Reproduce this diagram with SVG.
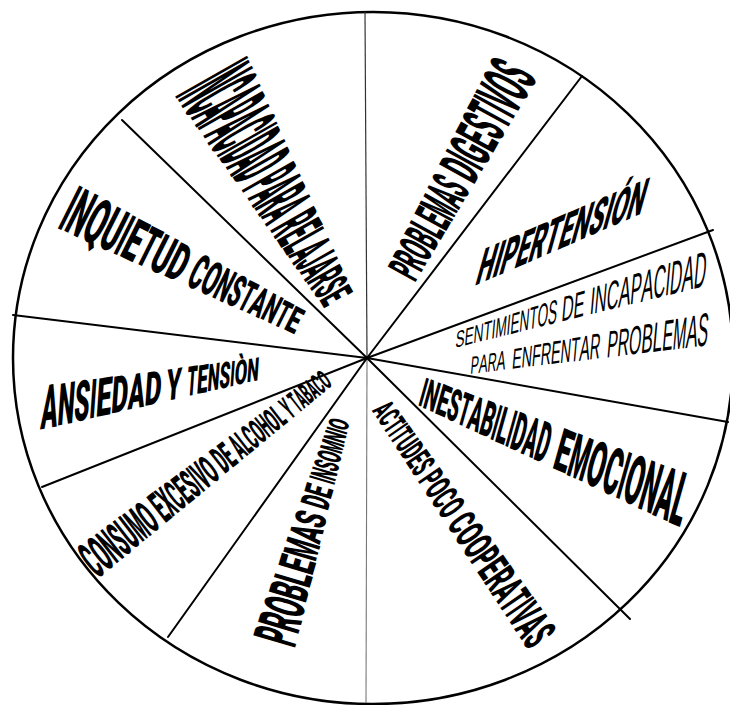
<svg xmlns="http://www.w3.org/2000/svg" width="730" height="705" viewBox="0 0 730 705">
<style>
.lbl{font-family:Roboto,"Liberation Sans",Arial,sans-serif;font-weight:900;fill:#000}
.thin{font-family:"Liberation Sans",Arial,sans-serif;font-weight:normal;fill:#000}
.ray{stroke:#000;stroke-width:2;fill:none;stroke-linecap:round}
</style>
<rect width="730" height="705" fill="#fff"/>
<g id="wheel"><ellipse cx="373" cy="358" rx="360" ry="346" fill="none" stroke="#000" stroke-width="2.5"/></g>
<g id="connectors">
<line x1="365" y1="12" x2="367" y2="358" stroke="#333" stroke-width="1.2"/>
<line x1="367" y1="358" x2="366" y2="703" stroke="#777" stroke-width="1.1"/>
<line class="ray" x1="367" y1="358" x2="582" y2="76"/>
<line class="ray" x1="367" y1="358" x2="713" y2="230"/>
<line class="ray" x1="367" y1="358" x2="728" y2="422"/>
<line class="ray" x1="367" y1="358" x2="630" y2="619"/>
<line class="ray" x1="367" y1="358" x2="168" y2="637"/>
<line class="ray" x1="367" y1="358" x2="42" y2="487"/>
<line class="ray" x1="367" y1="358" x2="13" y2="315"/>
<line class="ray" x1="367" y1="358" x2="122" y2="120"/>
</g>
<g id="incapacidad-relajarse"><text class="lbl" transform="translate(211 75) rotate(60.4)"><tspan x="0" y="41.8" font-size="116.1" textLength="4.38" lengthAdjust="spacingAndGlyphs">I</tspan><tspan x="4.38" y="41" font-size="113.9" textLength="11.37" lengthAdjust="spacingAndGlyphs">N</tspan><tspan x="15.75" y="39.9" font-size="110.8" textLength="11.37" lengthAdjust="spacingAndGlyphs">C</tspan><tspan x="27.12" y="38.8" font-size="107.6" textLength="11.37" lengthAdjust="spacingAndGlyphs">A</tspan><tspan x="38.49" y="37.7" font-size="104.7" textLength="10.51" lengthAdjust="spacingAndGlyphs">P</tspan><tspan x="49" y="36.6" font-size="101.7" textLength="11.37" lengthAdjust="spacingAndGlyphs">A</tspan><tspan x="60.37" y="35.5" font-size="98.6" textLength="11.37" lengthAdjust="spacingAndGlyphs">C</tspan><tspan x="71.74" y="34.7" font-size="96.4" textLength="4.38" lengthAdjust="spacingAndGlyphs">I</tspan><tspan x="76.12" y="34" font-size="94.3" textLength="11.37" lengthAdjust="spacingAndGlyphs">D</tspan><tspan x="87.49" y="32.8" font-size="91.1" textLength="11.37" lengthAdjust="spacingAndGlyphs">A</tspan><tspan x="98.86" y="31.7" font-size="88.1" textLength="11.37" lengthAdjust="spacingAndGlyphs">D</tspan> <tspan x="114.61" y="30.2" font-size="83.9" textLength="10.51" lengthAdjust="spacingAndGlyphs">P</tspan><tspan x="125.12" y="29.1" font-size="80.8" textLength="11.37" lengthAdjust="spacingAndGlyphs">A</tspan><tspan x="136.49" y="28" font-size="77.8" textLength="11.37" lengthAdjust="spacingAndGlyphs">R</tspan><tspan x="147.86" y="26.9" font-size="74.7" textLength="11.37" lengthAdjust="spacingAndGlyphs">A</tspan> <tspan x="163.61" y="25.4" font-size="70.4" textLength="11.37" lengthAdjust="spacingAndGlyphs">R</tspan><tspan x="174.98" y="24.3" font-size="67.4" textLength="10.51" lengthAdjust="spacingAndGlyphs">E</tspan><tspan x="185.49" y="23.3" font-size="64.6" textLength="9.62" lengthAdjust="spacingAndGlyphs">L</tspan><tspan x="195.11" y="22.3" font-size="61.8" textLength="11.37" lengthAdjust="spacingAndGlyphs">A</tspan><tspan x="206.48" y="21.3" font-size="59" textLength="8.76" lengthAdjust="spacingAndGlyphs">J</tspan><tspan x="215.24" y="20.3" font-size="56.3" textLength="11.37" lengthAdjust="spacingAndGlyphs">A</tspan><tspan x="226.61" y="19.2" font-size="53.2" textLength="11.37" lengthAdjust="spacingAndGlyphs">R</tspan><tspan x="237.98" y="18.1" font-size="50.1" textLength="10.51" lengthAdjust="spacingAndGlyphs">S</tspan><tspan x="248.49" y="17" font-size="47.2" textLength="10.51" lengthAdjust="spacingAndGlyphs">E</tspan></text></g>
<g id="inquietud-constante"><text class="lbl" transform="translate(67.5 206) rotate(26.57)"><tspan x="0" y="24.4" font-size="67.6" textLength="6.77" lengthAdjust="spacingAndGlyphs">I</tspan><tspan x="6.77" y="23.8" font-size="66.1" textLength="17.59" lengthAdjust="spacingAndGlyphs">N</tspan><tspan x="24.36" y="23" font-size="63.9" textLength="18.95" lengthAdjust="spacingAndGlyphs">Q</tspan><tspan x="43.31" y="22.2" font-size="61.7" textLength="17.59" lengthAdjust="spacingAndGlyphs">U</tspan><tspan x="60.9" y="21.7" font-size="60.1" textLength="6.77" lengthAdjust="spacingAndGlyphs">I</tspan><tspan x="67.67" y="21.2" font-size="58.8" textLength="16.25" lengthAdjust="spacingAndGlyphs">E</tspan><tspan x="83.92" y="20.5" font-size="56.8" textLength="14.88" lengthAdjust="spacingAndGlyphs">T</tspan><tspan x="98.8" y="19.8" font-size="54.9" textLength="17.59" lengthAdjust="spacingAndGlyphs">U</tspan><tspan x="116.39" y="19" font-size="52.6" textLength="17.59" lengthAdjust="spacingAndGlyphs">D</tspan> <tspan x="140" y="18" font-size="50" textLength="13.98" lengthAdjust="spacingAndGlyphs">C</tspan><tspan x="153.98" y="17.4" font-size="48.2" textLength="15.07" lengthAdjust="spacingAndGlyphs">O</tspan><tspan x="169.05" y="16.8" font-size="46.5" textLength="13.98" lengthAdjust="spacingAndGlyphs">N</tspan><tspan x="183.03" y="16.2" font-size="44.9" textLength="12.92" lengthAdjust="spacingAndGlyphs">S</tspan><tspan x="195.95" y="15.6" font-size="43.3" textLength="11.83" lengthAdjust="spacingAndGlyphs">T</tspan><tspan x="207.78" y="15" font-size="41.7" textLength="13.98" lengthAdjust="spacingAndGlyphs">A</tspan><tspan x="221.76" y="14.4" font-size="40" textLength="13.98" lengthAdjust="spacingAndGlyphs">N</tspan><tspan x="235.74" y="13.9" font-size="38.5" textLength="11.83" lengthAdjust="spacingAndGlyphs">T</tspan><tspan x="247.57" y="13.3" font-size="36.9" textLength="12.92" lengthAdjust="spacingAndGlyphs">E</tspan></text></g>
<g id="ansiedad-tension"><text class="lbl" transform="matrix(0.9843,-0.1758,-0.07,0.9975,41.6,407.5)"><tspan x="0" y="22.1" font-size="61.4" textLength="16.87" lengthAdjust="spacingAndGlyphs">A</tspan><tspan x="16.87" y="21.3" font-size="59" textLength="16.87" lengthAdjust="spacingAndGlyphs">N</tspan><tspan x="33.74" y="20.5" font-size="56.8" textLength="15.58" lengthAdjust="spacingAndGlyphs">S</tspan><tspan x="49.32" y="19.9" font-size="55.3" textLength="6.49" lengthAdjust="spacingAndGlyphs">I</tspan><tspan x="55.81" y="19.4" font-size="53.8" textLength="15.58" lengthAdjust="spacingAndGlyphs">E</tspan><tspan x="71.39" y="18.6" font-size="51.5" textLength="16.87" lengthAdjust="spacingAndGlyphs">D</tspan><tspan x="88.26" y="17.7" font-size="49.2" textLength="16.87" lengthAdjust="spacingAndGlyphs">A</tspan><tspan x="105.13" y="16.9" font-size="46.8" textLength="16.87" lengthAdjust="spacingAndGlyphs">D</tspan> <tspan x="127" y="15.8" font-size="43.9" textLength="15" lengthAdjust="spacingAndGlyphs">Y</tspan> <tspan x="148" y="14.9" font-size="41.4" textLength="10.03" lengthAdjust="spacingAndGlyphs">T</tspan><tspan x="158.03" y="14.4" font-size="39.9" textLength="10.95" lengthAdjust="spacingAndGlyphs">E</tspan><tspan x="168.98" y="13.8" font-size="38.3" textLength="11.86" lengthAdjust="spacingAndGlyphs">N</tspan><tspan x="180.84" y="13.3" font-size="36.8" textLength="10.95" lengthAdjust="spacingAndGlyphs">S</tspan><tspan x="191.79" y="12.9" font-size="35.7" textLength="4.56" lengthAdjust="spacingAndGlyphs">I</tspan><tspan x="196.35" y="12.4" font-size="34.4" textLength="12.77" lengthAdjust="spacingAndGlyphs">Ò</tspan><tspan x="209.12" y="11.8" font-size="32.8" textLength="11.86" lengthAdjust="spacingAndGlyphs">N</tspan></text></g>
<g id="consumo-alcohol-tabaco"><text class="lbl" transform="translate(86 564) rotate(-37.8)"><tspan x="0" y="18.85" font-size="52.4" textLength="11.5" lengthAdjust="spacingAndGlyphs">C</tspan><tspan x="11.5" y="18.5" font-size="51.4" textLength="12.39" lengthAdjust="spacingAndGlyphs">O</tspan><tspan x="23.89" y="18.15" font-size="50.4" textLength="11.5" lengthAdjust="spacingAndGlyphs">N</tspan><tspan x="35.39" y="17.8" font-size="49.4" textLength="10.63" lengthAdjust="spacingAndGlyphs">S</tspan><tspan x="46.02" y="17.45" font-size="48.5" textLength="11.5" lengthAdjust="spacingAndGlyphs">U</tspan><tspan x="57.52" y="17.1" font-size="47.5" textLength="13.27" lengthAdjust="spacingAndGlyphs">M</tspan><tspan x="70.79" y="16.75" font-size="46.5" textLength="12.39" lengthAdjust="spacingAndGlyphs">O</tspan> <tspan x="87.6" y="16.3" font-size="45.3" textLength="9.55" lengthAdjust="spacingAndGlyphs">E</tspan><tspan x="97.15" y="16" font-size="44.4" textLength="9.55" lengthAdjust="spacingAndGlyphs">X</tspan><tspan x="106.7" y="15.7" font-size="43.6" textLength="10.34" lengthAdjust="spacingAndGlyphs">C</tspan><tspan x="117.04" y="15.4" font-size="42.8" textLength="9.55" lengthAdjust="spacingAndGlyphs">E</tspan><tspan x="126.59" y="15.15" font-size="42.1" textLength="9.55" lengthAdjust="spacingAndGlyphs">S</tspan><tspan x="136.14" y="14.95" font-size="41.5" textLength="3.98" lengthAdjust="spacingAndGlyphs">I</tspan><tspan x="140.12" y="14.75" font-size="41" textLength="9.55" lengthAdjust="spacingAndGlyphs">V</tspan><tspan x="149.67" y="14.4" font-size="40" textLength="11.14" lengthAdjust="spacingAndGlyphs">O</tspan> <tspan x="164.8" y="14" font-size="38.9" textLength="9.57" lengthAdjust="spacingAndGlyphs">D</tspan><tspan x="174.37" y="13.75" font-size="38.2" textLength="8.84" lengthAdjust="spacingAndGlyphs">E</tspan> <tspan x="186.8" y="13.35" font-size="37.1" textLength="8.81" lengthAdjust="spacingAndGlyphs">A</tspan><tspan x="195.61" y="13.15" font-size="36.5" textLength="7.45" lengthAdjust="spacingAndGlyphs">L</tspan><tspan x="203.06" y="12.9" font-size="35.8" textLength="8.81" lengthAdjust="spacingAndGlyphs">C</tspan><tspan x="211.87" y="12.6" font-size="35" textLength="9.49" lengthAdjust="spacingAndGlyphs">O</tspan><tspan x="221.36" y="12.35" font-size="34.3" textLength="8.81" lengthAdjust="spacingAndGlyphs">H</tspan><tspan x="230.17" y="12.1" font-size="33.6" textLength="9.49" lengthAdjust="spacingAndGlyphs">O</tspan><tspan x="239.66" y="11.85" font-size="32.9" textLength="7.45" lengthAdjust="spacingAndGlyphs">L</tspan> <tspan x="250.4" y="11.5" font-size="31.9" textLength="7.5" lengthAdjust="spacingAndGlyphs">Y</tspan> <tspan x="261" y="11.2" font-size="31.1" textLength="6.33" lengthAdjust="spacingAndGlyphs">T</tspan><tspan x="267.33" y="11" font-size="30.6" textLength="7.48" lengthAdjust="spacingAndGlyphs">A</tspan><tspan x="274.81" y="10.8" font-size="30" textLength="7.48" lengthAdjust="spacingAndGlyphs">B</tspan><tspan x="282.29" y="10.55" font-size="29.3" textLength="7.48" lengthAdjust="spacingAndGlyphs">A</tspan><tspan x="289.77" y="10.35" font-size="28.8" textLength="7.48" lengthAdjust="spacingAndGlyphs">C</tspan><tspan x="297.25" y="10.1" font-size="28.1" textLength="8.06" lengthAdjust="spacingAndGlyphs">O</tspan></text></g>
<g id="problemas-insomnio"><text class="lbl" transform="translate(273.5 642.5) rotate(-73.4)"><tspan x="0" y="22.1" font-size="61.4" textLength="14.21" lengthAdjust="spacingAndGlyphs">P</tspan><tspan x="14.21" y="21.3" font-size="59.2" textLength="15.38" lengthAdjust="spacingAndGlyphs">R</tspan><tspan x="29.59" y="20.45" font-size="56.8" textLength="16.57" lengthAdjust="spacingAndGlyphs">O</tspan><tspan x="46.16" y="19.6" font-size="54.4" textLength="15.38" lengthAdjust="spacingAndGlyphs">B</tspan><tspan x="61.54" y="18.85" font-size="52.4" textLength="13.01" lengthAdjust="spacingAndGlyphs">L</tspan><tspan x="74.55" y="18.1" font-size="50.3" textLength="14.21" lengthAdjust="spacingAndGlyphs">E</tspan><tspan x="88.76" y="17.25" font-size="47.9" textLength="17.74" lengthAdjust="spacingAndGlyphs">M</tspan><tspan x="106.5" y="16.35" font-size="45.4" textLength="15.38" lengthAdjust="spacingAndGlyphs">A</tspan><tspan x="121.88" y="15.6" font-size="43.3" textLength="14.21" lengthAdjust="spacingAndGlyphs">S</tspan> <tspan x="141.2" y="14.6" font-size="40.6" textLength="11.7" lengthAdjust="spacingAndGlyphs">D</tspan><tspan x="152.9" y="14" font-size="38.9" textLength="10.8" lengthAdjust="spacingAndGlyphs">E</tspan> <tspan x="167.8" y="13.4" font-size="37.2" textLength="3.58" lengthAdjust="spacingAndGlyphs">I</tspan><tspan x="171.38" y="13.05" font-size="36.3" textLength="9.31" lengthAdjust="spacingAndGlyphs">N</tspan><tspan x="180.69" y="12.6" font-size="35" textLength="8.6" lengthAdjust="spacingAndGlyphs">S</tspan><tspan x="189.29" y="12.1" font-size="33.6" textLength="10.03" lengthAdjust="spacingAndGlyphs">O</tspan><tspan x="199.32" y="11.5" font-size="31.9" textLength="10.74" lengthAdjust="spacingAndGlyphs">M</tspan><tspan x="210.06" y="11" font-size="30.6" textLength="9.31" lengthAdjust="spacingAndGlyphs">N</tspan><tspan x="219.37" y="10.65" font-size="29.6" textLength="3.58" lengthAdjust="spacingAndGlyphs">I</tspan><tspan x="222.95" y="10.25" font-size="28.5" textLength="10.03" lengthAdjust="spacingAndGlyphs">O</tspan></text></g>
<g id="actitudes-poco-cooperativas"><text class="lbl" transform="translate(381 404.5) rotate(55.5)"><tspan x="0" y="11.1" font-size="30.8" textLength="10.06" lengthAdjust="spacingAndGlyphs">A</tspan><tspan x="10.06" y="11.35" font-size="31.5" textLength="10.06" lengthAdjust="spacingAndGlyphs">C</tspan><tspan x="20.12" y="11.6" font-size="32.2" textLength="8.51" lengthAdjust="spacingAndGlyphs">T</tspan><tspan x="28.63" y="11.75" font-size="32.6" textLength="3.87" lengthAdjust="spacingAndGlyphs">I</tspan><tspan x="32.5" y="11.9" font-size="33.1" textLength="8.51" lengthAdjust="spacingAndGlyphs">T</tspan><tspan x="41.01" y="12.1" font-size="33.6" textLength="10.06" lengthAdjust="spacingAndGlyphs">U</tspan><tspan x="51.07" y="12.35" font-size="34.3" textLength="10.06" lengthAdjust="spacingAndGlyphs">D</tspan><tspan x="61.13" y="12.6" font-size="35" textLength="9.29" lengthAdjust="spacingAndGlyphs">E</tspan><tspan x="70.42" y="12.85" font-size="35.7" textLength="9.29" lengthAdjust="spacingAndGlyphs">S</tspan> <tspan x="83.8" y="13.2" font-size="36.7" textLength="10.76" lengthAdjust="spacingAndGlyphs">P</tspan><tspan x="94.56" y="13.45" font-size="37.4" textLength="12.55" lengthAdjust="spacingAndGlyphs">O</tspan><tspan x="107.11" y="13.75" font-size="38.2" textLength="11.65" lengthAdjust="spacingAndGlyphs">C</tspan><tspan x="118.76" y="14.05" font-size="39" textLength="12.55" lengthAdjust="spacingAndGlyphs">O</tspan> <tspan x="136.1" y="14.5" font-size="40.3" textLength="13.57" lengthAdjust="spacingAndGlyphs">C</tspan><tspan x="149.67" y="14.85" font-size="41.3" textLength="14.63" lengthAdjust="spacingAndGlyphs">O</tspan><tspan x="164.3" y="15.2" font-size="42.2" textLength="14.63" lengthAdjust="spacingAndGlyphs">O</tspan><tspan x="178.93" y="15.55" font-size="43.2" textLength="12.54" lengthAdjust="spacingAndGlyphs">P</tspan><tspan x="191.47" y="15.85" font-size="44" textLength="12.54" lengthAdjust="spacingAndGlyphs">E</tspan><tspan x="204.01" y="16.15" font-size="44.9" textLength="13.57" lengthAdjust="spacingAndGlyphs">R</tspan><tspan x="217.58" y="16.5" font-size="45.8" textLength="13.57" lengthAdjust="spacingAndGlyphs">A</tspan><tspan x="231.15" y="16.8" font-size="46.7" textLength="11.49" lengthAdjust="spacingAndGlyphs">T</tspan><tspan x="242.64" y="17" font-size="47.2" textLength="5.23" lengthAdjust="spacingAndGlyphs">I</tspan><tspan x="247.87" y="17.2" font-size="47.8" textLength="12.54" lengthAdjust="spacingAndGlyphs">V</tspan><tspan x="260.41" y="17.55" font-size="48.8" textLength="13.57" lengthAdjust="spacingAndGlyphs">A</tspan><tspan x="273.98" y="17.85" font-size="49.6" textLength="12.54" lengthAdjust="spacingAndGlyphs">S</tspan></text></g>
<g id="inestabilidad-emocional"><text class="lbl" transform="matrix(0.9235,0.3836,-0.27,0.963,421.5,391)"><tspan x="0" y="14.6" font-size="40.6" textLength="5" lengthAdjust="spacingAndGlyphs">I</tspan><tspan x="5" y="15" font-size="41.7" textLength="13" lengthAdjust="spacingAndGlyphs">N</tspan><tspan x="18" y="15.55" font-size="43.2" textLength="12" lengthAdjust="spacingAndGlyphs">E</tspan><tspan x="30" y="16.05" font-size="44.6" textLength="12" lengthAdjust="spacingAndGlyphs">S</tspan><tspan x="42" y="16.55" font-size="46" textLength="11" lengthAdjust="spacingAndGlyphs">T</tspan><tspan x="53" y="17.1" font-size="47.5" textLength="13" lengthAdjust="spacingAndGlyphs">A</tspan><tspan x="66" y="17.65" font-size="49" textLength="13" lengthAdjust="spacingAndGlyphs">B</tspan><tspan x="79" y="18.05" font-size="50.1" textLength="5" lengthAdjust="spacingAndGlyphs">I</tspan><tspan x="84" y="18.4" font-size="51.1" textLength="11" lengthAdjust="spacingAndGlyphs">L</tspan><tspan x="95" y="18.75" font-size="52.1" textLength="5" lengthAdjust="spacingAndGlyphs">I</tspan><tspan x="100" y="19.1" font-size="53.1" textLength="13" lengthAdjust="spacingAndGlyphs">D</tspan><tspan x="113" y="19.7" font-size="54.7" textLength="13" lengthAdjust="spacingAndGlyphs">A</tspan><tspan x="126" y="20.25" font-size="56.3" textLength="13" lengthAdjust="spacingAndGlyphs">D</tspan> <tspan x="147" y="21.2" font-size="58.9" textLength="15.39" lengthAdjust="spacingAndGlyphs">E</tspan><tspan x="162.39" y="21.95" font-size="61" textLength="19.22" lengthAdjust="spacingAndGlyphs">M</tspan><tspan x="181.61" y="22.75" font-size="63.2" textLength="17.95" lengthAdjust="spacingAndGlyphs">O</tspan><tspan x="199.56" y="23.5" font-size="65.3" textLength="16.66" lengthAdjust="spacingAndGlyphs">C</tspan><tspan x="216.22" y="24" font-size="66.7" textLength="6.41" lengthAdjust="spacingAndGlyphs">I</tspan><tspan x="222.63" y="24.55" font-size="68.2" textLength="17.95" lengthAdjust="spacingAndGlyphs">O</tspan><tspan x="240.58" y="25.3" font-size="70.3" textLength="16.66" lengthAdjust="spacingAndGlyphs">N</tspan><tspan x="257.24" y="26.05" font-size="72.4" textLength="16.66" lengthAdjust="spacingAndGlyphs">A</tspan><tspan x="273.9" y="26.7" font-size="74.2" textLength="14.1" lengthAdjust="spacingAndGlyphs">L</tspan></text></g>
<g id="sentimientos-incapacidad"><text class="thin" transform="matrix(0.9613,-0.2761,-0.087,0.996,455.7,339.5) scale(0.98)"><tspan x="0" y="8.7" font-size="24.2" textLength="9.6" lengthAdjust="spacingAndGlyphs">S</tspan><tspan x="9.6" y="9.05" font-size="25.1" textLength="9.6" lengthAdjust="spacingAndGlyphs">E</tspan><tspan x="19.2" y="9.45" font-size="26.3" textLength="10.4" lengthAdjust="spacingAndGlyphs">N</tspan><tspan x="29.6" y="9.85" font-size="27.4" textLength="8.8" lengthAdjust="spacingAndGlyphs">T</tspan><tspan x="38.4" y="10.1" font-size="28.1" textLength="4" lengthAdjust="spacingAndGlyphs">I</tspan><tspan x="42.4" y="10.4" font-size="28.9" textLength="12" lengthAdjust="spacingAndGlyphs">M</tspan><tspan x="54.4" y="10.7" font-size="29.7" textLength="4" lengthAdjust="spacingAndGlyphs">I</tspan><tspan x="58.4" y="11" font-size="30.6" textLength="9.6" lengthAdjust="spacingAndGlyphs">E</tspan><tspan x="68" y="11.4" font-size="31.7" textLength="10.4" lengthAdjust="spacingAndGlyphs">N</tspan><tspan x="78.4" y="11.75" font-size="32.6" textLength="8.8" lengthAdjust="spacingAndGlyphs">T</tspan><tspan x="87.2" y="12.15" font-size="33.8" textLength="11.2" lengthAdjust="spacingAndGlyphs">O</tspan><tspan x="98.4" y="12.55" font-size="34.9" textLength="9.6" lengthAdjust="spacingAndGlyphs">S</tspan> <tspan x="113" y="13.2" font-size="36.7" textLength="12.48" lengthAdjust="spacingAndGlyphs">D</tspan><tspan x="125.48" y="13.7" font-size="38.1" textLength="11.52" lengthAdjust="spacingAndGlyphs">E</tspan> <tspan x="143" y="14.25" font-size="39.6" textLength="4.89" lengthAdjust="spacingAndGlyphs">I</tspan><tspan x="147.89" y="14.6" font-size="40.6" textLength="12.71" lengthAdjust="spacingAndGlyphs">N</tspan><tspan x="160.6" y="15.1" font-size="41.9" textLength="12.71" lengthAdjust="spacingAndGlyphs">C</tspan><tspan x="173.31" y="15.6" font-size="43.3" textLength="12.71" lengthAdjust="spacingAndGlyphs">A</tspan><tspan x="186.02" y="16.05" font-size="44.6" textLength="11.74" lengthAdjust="spacingAndGlyphs">P</tspan><tspan x="197.76" y="16.55" font-size="46" textLength="12.71" lengthAdjust="spacingAndGlyphs">A</tspan><tspan x="210.47" y="17.05" font-size="47.4" textLength="12.71" lengthAdjust="spacingAndGlyphs">C</tspan><tspan x="223.18" y="17.4" font-size="48.3" textLength="4.89" lengthAdjust="spacingAndGlyphs">I</tspan><tspan x="228.07" y="17.75" font-size="49.3" textLength="12.71" lengthAdjust="spacingAndGlyphs">D</tspan><tspan x="240.78" y="18.25" font-size="50.7" textLength="12.71" lengthAdjust="spacingAndGlyphs">A</tspan><tspan x="253.49" y="18.75" font-size="52.1" textLength="12.71" lengthAdjust="spacingAndGlyphs">D</tspan></text><text class="thin" transform="matrix(0.9882,-0.1523,-0.087,0.996,470.8,365) scale(0.98)"><tspan x="0" y="9.15" font-size="25.4" textLength="8.48" lengthAdjust="spacingAndGlyphs">P</tspan><tspan x="8.48" y="9.45" font-size="26.3" textLength="9.18" lengthAdjust="spacingAndGlyphs">A</tspan><tspan x="17.66" y="9.75" font-size="27.1" textLength="9.18" lengthAdjust="spacingAndGlyphs">R</tspan><tspan x="26.84" y="10.1" font-size="28.1" textLength="9.18" lengthAdjust="spacingAndGlyphs">A</tspan> <tspan x="43" y="10.65" font-size="29.6" textLength="9.84" lengthAdjust="spacingAndGlyphs">E</tspan><tspan x="52.84" y="11" font-size="30.6" textLength="10.66" lengthAdjust="spacingAndGlyphs">N</tspan><tspan x="63.5" y="11.35" font-size="31.5" textLength="9.02" lengthAdjust="spacingAndGlyphs">F</tspan><tspan x="72.52" y="11.7" font-size="32.5" textLength="10.66" lengthAdjust="spacingAndGlyphs">R</tspan><tspan x="83.18" y="12.05" font-size="33.5" textLength="9.84" lengthAdjust="spacingAndGlyphs">E</tspan><tspan x="93.02" y="12.4" font-size="34.4" textLength="10.66" lengthAdjust="spacingAndGlyphs">N</tspan><tspan x="103.68" y="12.75" font-size="35.4" textLength="9.02" lengthAdjust="spacingAndGlyphs">T</tspan><tspan x="112.7" y="13.1" font-size="36.4" textLength="10.66" lengthAdjust="spacingAndGlyphs">A</tspan><tspan x="123.36" y="13.45" font-size="37.4" textLength="10.66" lengthAdjust="spacingAndGlyphs">R</tspan> <tspan x="141" y="14.05" font-size="39" textLength="10.92" lengthAdjust="spacingAndGlyphs">P</tspan><tspan x="151.92" y="14.45" font-size="40.1" textLength="11.82" lengthAdjust="spacingAndGlyphs">R</tspan><tspan x="163.74" y="14.9" font-size="41.4" textLength="12.74" lengthAdjust="spacingAndGlyphs">O</tspan><tspan x="176.48" y="15.3" font-size="42.5" textLength="11.82" lengthAdjust="spacingAndGlyphs">B</tspan><tspan x="188.3" y="15.7" font-size="43.6" textLength="10" lengthAdjust="spacingAndGlyphs">L</tspan><tspan x="198.3" y="16.05" font-size="44.6" textLength="10.92" lengthAdjust="spacingAndGlyphs">E</tspan><tspan x="209.22" y="16.5" font-size="45.8" textLength="13.64" lengthAdjust="spacingAndGlyphs">M</tspan><tspan x="222.86" y="16.9" font-size="46.9" textLength="11.82" lengthAdjust="spacingAndGlyphs">A</tspan><tspan x="234.68" y="17.3" font-size="48.1" textLength="10.92" lengthAdjust="spacingAndGlyphs">S</tspan></text></g>
<g id="hipertension"><text class="lbl" transform="matrix(0.9178,-0.3972,-0.27,0.963,479.3,267.2)" x="0" y="19.5" font-size="54.2" textLength="182" lengthAdjust="spacingAndGlyphs">HIPERTENSIÓN</text></g>
<g id="problemas-digestivos"><text class="lbl" transform="translate(401 275) rotate(-61.2)"><tspan x="0" y="16.2" font-size="45" textLength="11.27" lengthAdjust="spacingAndGlyphs">P</tspan><tspan x="11.27" y="16.65" font-size="46.3" textLength="12.2" lengthAdjust="spacingAndGlyphs">R</tspan><tspan x="23.47" y="17.15" font-size="47.6" textLength="13.15" lengthAdjust="spacingAndGlyphs">O</tspan><tspan x="36.62" y="17.6" font-size="48.9" textLength="12.2" lengthAdjust="spacingAndGlyphs">B</tspan><tspan x="48.82" y="18.05" font-size="50.1" textLength="10.33" lengthAdjust="spacingAndGlyphs">L</tspan><tspan x="59.15" y="18.45" font-size="51.3" textLength="11.27" lengthAdjust="spacingAndGlyphs">E</tspan><tspan x="70.42" y="18.9" font-size="52.5" textLength="14.08" lengthAdjust="spacingAndGlyphs">M</tspan><tspan x="84.5" y="19.4" font-size="53.9" textLength="12.2" lengthAdjust="spacingAndGlyphs">A</tspan><tspan x="96.7" y="19.85" font-size="55.1" textLength="11.27" lengthAdjust="spacingAndGlyphs">S</tspan> <tspan x="114" y="20.6" font-size="57.2" textLength="14.71" lengthAdjust="spacingAndGlyphs">D</tspan><tspan x="128.71" y="20.95" font-size="58.2" textLength="5.66" lengthAdjust="spacingAndGlyphs">I</tspan><tspan x="134.37" y="21.35" font-size="59.3" textLength="15.85" lengthAdjust="spacingAndGlyphs">G</tspan><tspan x="150.22" y="21.9" font-size="60.8" textLength="13.59" lengthAdjust="spacingAndGlyphs">E</tspan><tspan x="163.81" y="22.45" font-size="62.4" textLength="13.59" lengthAdjust="spacingAndGlyphs">S</tspan><tspan x="177.4" y="22.95" font-size="63.8" textLength="12.45" lengthAdjust="spacingAndGlyphs">T</tspan><tspan x="189.85" y="23.25" font-size="64.6" textLength="5.66" lengthAdjust="spacingAndGlyphs">I</tspan><tspan x="195.51" y="23.65" font-size="65.7" textLength="13.59" lengthAdjust="spacingAndGlyphs">V</tspan><tspan x="209.1" y="24.2" font-size="67.2" textLength="15.85" lengthAdjust="spacingAndGlyphs">O</tspan><tspan x="224.95" y="24.75" font-size="68.8" textLength="13.59" lengthAdjust="spacingAndGlyphs">S</tspan></text></g>
</svg>
